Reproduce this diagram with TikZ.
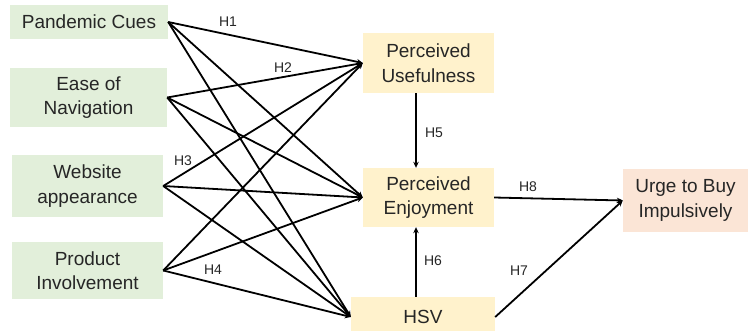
\documentclass[tikz,border=0pt]{standalone}
\usepackage{fontspec}
\setmainfont{Liberation Sans}
\usetikzlibrary{arrows.meta}
\definecolor{boxgreen}{HTML}{E2EFDA}
\definecolor{boxyellow}{HTML}{FFF2CC}
\definecolor{boxpink}{HTML}{FBE5D6}
\definecolor{txt}{HTML}{262626}
\begin{document}
\begin{tikzpicture}[x=1pt,y=-1pt,
  box/.style={inner sep=0pt, align=center, font=\fontsize{19}{24.5}\selectfont, text=txt},
  gbox/.style={box, fill=boxgreen},
  ybox/.style={box, fill=boxyellow},
  pbox/.style={box, fill=boxpink},
  arr/.style={line width=1.8pt, -{Stealth[length=6pt,width=5.5pt]}},
  hlab/.style={font=\fontsize{14}{16}\selectfont, text=txt, inner sep=0pt}]
\useasboundingbox (0,0) rectangle (749,331);
\fill[white] (0,0) rectangle (749,331);
% left boxes
\node[gbox, minimum width=158pt, minimum height=34pt] (pc) at (89,22) {Pandemic Cues};
\node[gbox, minimum width=157pt, minimum height=59pt] (en) at (88.5,97.5) {Ease of\\Navigation};
\node[gbox, minimum width=151pt, minimum height=62pt] (wa) at (87.5,186) {Website\\appearance};
\node[gbox, minimum width=151pt, minimum height=57pt] (pi) at (87.5,270.5) {Product\\Involvement};
% middle boxes
\node[ybox, minimum width=131pt, minimum height=60pt] (pu) at (428.5,63) {Perceived\\Usefulness};
\node[ybox, minimum width=131pt, minimum height=59pt] (pe) at (428.5,197.5) {Perceived\\Enjoyment};
\node[ybox, minimum width=144pt, minimum height=40pt] (hsv) at (423,317) {HSV};
\node[pbox, minimum width=125pt, minimum height=63pt] (ub) at (685.5,200.5) {Urge to Buy\\Impulsively};
% arrows from left boxes
\foreach \s in {pc,en,wa,pi}{
  \foreach \t in {pu,pe,hsv}{
    \draw[arr] (\s.east) -- (\t.west);
  }
}
\draw[arr] ([xshift=-12.5pt]pu.south) -- ([xshift=-12.5pt]pe.north);
\draw[arr] ([xshift=-7pt]hsv.north) -- ([xshift=-12.5pt]pe.south);
\draw[arr] (pe.east) -- (ub.west);
\draw[arr] (hsv.east) -- (ub.west);
% labels
\node[hlab] (h1) at (228,22) {H1};
\node[hlab] (h2) at (283,68) {H2};
\node[hlab] (h3) at (183,161) {H3};
\node[hlab] (h4) at (213,270) {H4};
\node[hlab] (h5) at (434,133) {H5};
\node[hlab] (h6) at (433,261) {H6};
\node[hlab] (h7) at (519,271) {H7};
\node[hlab] (h8) at (528,187) {H8};
\end{tikzpicture}
\end{document}
